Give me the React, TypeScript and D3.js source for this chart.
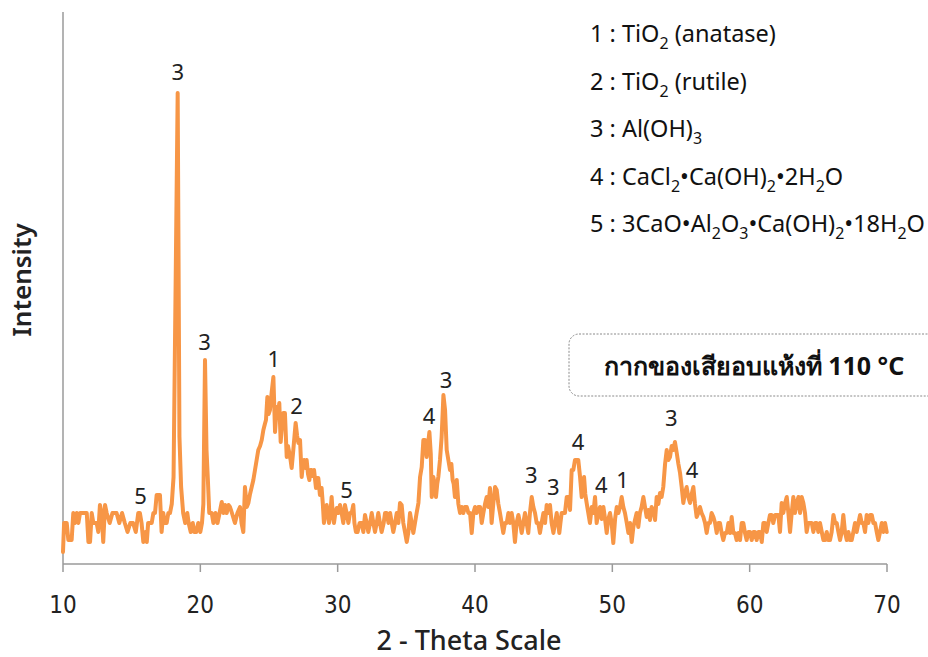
import React from "react";
import * as d3 from "d3";

// XRD pattern: [2θ (deg), intensity (a.u.)]
const xrdPattern: [number, number][] = [
  [10.0, 12], [10.08, 41], [10.27, 41], [10.39, 24], [10.63, 24], [10.75, 51], [10.88, 41], [11.0, 51], [11.12, 41], [11.24, 51],
  [11.36, 51], [11.73, 51], [11.85, 22], [11.97, 22], [12.09, 51], [12.21, 41], [12.33, 41], [12.45, 41], [12.57, 32], [12.69, 59],
  [12.81, 51], [12.93, 22], [13.06, 59], [13.18, 51], [13.4, 41], [13.6, 51], [13.9, 51], [14.1, 41], [14.3, 51], [14.5, 41],
  [14.7, 32], [14.9, 41], [15.1, 41], [15.3, 32], [15.48, 51], [15.6, 51], [15.72, 41], [15.85, 22], [16.0, 32], [16.1, 22],
  [16.2, 41], [16.46, 41], [16.58, 51], [16.7, 51], [16.82, 69], [17.06, 69], [17.18, 32], [17.3, 51], [17.42, 41], [17.55, 41],
  [17.67, 51], [17.79, 51], [17.92, 60], [18.05, 87], [18.35, 471], [18.48, 127], [18.6, 77], [18.75, 51], [18.9, 41], [19.05, 51],
  [19.15, 41], [19.3, 32], [19.45, 41], [19.55, 32], [19.7, 32], [19.85, 41], [20.0, 32], [20.12, 41], [20.22, 60], [20.34, 204],
  [20.45, 114], [20.55, 84], [20.65, 51], [20.83, 51], [20.95, 41], [21.1, 51], [21.25, 41], [21.4, 51], [21.56, 62], [21.68, 51],
  [21.8, 59], [21.92, 51], [22.05, 59], [22.16, 57], [22.3, 51], [22.52, 41], [22.7, 51], [22.89, 57], [23.0, 41], [23.13, 32],
  [23.25, 77], [23.38, 57], [23.5, 61], [23.62, 70], [23.74, 77], [23.86, 84], [23.98, 94], [24.1, 104], [24.22, 114], [24.35, 118],
  [24.47, 124], [24.59, 134], [24.7, 140], [24.78, 144], [24.88, 167], [24.97, 150], [25.07, 154], [25.19, 171], [25.32, 187], [25.44, 132],
  [25.56, 157], [25.65, 150], [25.75, 161], [25.85, 122], [25.95, 140], [26.04, 151], [26.16, 151], [26.29, 107], [26.38, 118], [26.48, 111],
  [26.57, 104], [26.65, 96], [26.77, 114], [26.94, 141], [27.05, 128], [27.14, 121], [27.26, 124], [27.38, 87], [27.47, 100], [27.55, 104],
  [27.65, 96], [27.74, 104], [27.84, 90], [27.94, 84], [28.02, 94], [28.11, 94], [28.2, 88], [28.28, 94], [28.42, 76], [28.5, 86],
  [28.59, 86], [28.71, 69], [28.83, 76], [28.92, 60], [29.0, 41], [29.1, 51], [29.2, 59], [29.28, 51], [29.37, 41], [29.47, 51],
  [29.56, 67], [29.64, 51], [29.73, 41], [29.83, 51], [29.93, 56], [30.05, 51], [30.17, 59], [30.29, 51], [30.41, 41], [30.53, 59],
  [30.65, 51], [30.78, 41], [30.9, 51], [31.02, 51], [31.14, 59], [31.22, 41], [31.33, 32], [31.45, 32], [31.6, 41], [31.75, 41],
  [31.87, 32], [31.99, 49], [32.11, 41], [32.23, 32], [32.36, 41], [32.48, 51], [32.6, 41], [32.72, 32], [32.84, 41], [32.96, 51],
  [33.08, 41], [33.2, 32], [33.35, 41], [33.45, 51], [33.57, 51], [33.7, 41], [33.82, 51], [33.94, 41], [34.05, 32], [34.18, 41],
  [34.3, 51], [34.42, 41], [34.54, 61], [34.66, 59], [34.78, 41], [34.9, 32], [35.03, 22], [35.15, 32], [35.27, 51], [35.39, 41],
  [35.51, 31], [35.63, 41], [35.75, 51], [35.88, 61], [36.0, 87], [36.12, 97], [36.24, 124], [36.36, 124], [36.48, 107], [36.58, 120],
  [36.68, 132], [36.78, 110], [36.85, 67], [36.97, 87], [37.06, 80], [37.16, 67], [37.25, 80], [37.33, 87], [37.45, 104], [37.57, 127],
  [37.7, 169], [37.82, 154], [37.94, 114], [38.06, 104], [38.18, 94], [38.28, 100], [38.37, 84], [38.45, 80], [38.54, 67], [38.67, 84],
  [38.79, 60], [38.91, 51], [39.03, 57], [39.15, 51], [39.27, 57], [39.4, 57], [39.52, 51], [39.64, 51], [39.76, 31], [39.88, 51],
  [40.0, 57], [40.12, 51], [40.25, 57], [40.37, 57], [40.49, 41], [40.61, 51], [40.73, 60], [40.85, 67], [40.97, 57], [41.09, 76],
  [41.21, 41], [41.33, 60], [41.46, 77], [41.58, 74], [41.7, 60], [41.82, 51], [41.94, 41], [42.06, 31], [42.18, 41], [42.31, 41],
  [42.43, 51], [42.55, 41], [42.67, 51], [42.79, 41], [42.91, 22], [43.03, 41], [43.16, 49], [43.28, 41], [43.4, 31], [43.52, 41],
  [43.64, 51], [43.76, 41], [43.88, 31], [44.0, 51], [44.13, 67], [44.25, 57], [44.37, 51], [44.49, 41], [44.61, 41], [44.73, 31],
  [44.85, 41], [44.98, 51], [45.1, 41], [45.22, 59], [45.34, 51], [45.46, 59], [45.58, 41], [45.71, 31], [45.83, 41], [45.95, 51],
  [46.05, 41], [46.14, 31], [46.22, 41], [46.31, 51], [46.43, 51], [46.55, 51], [46.68, 67], [46.8, 67], [46.92, 54], [47.04, 94],
  [47.16, 94], [47.28, 104], [47.4, 104], [47.52, 104], [47.65, 87], [47.77, 67], [47.85, 80], [47.94, 87], [48.03, 70], [48.13, 61],
  [48.25, 51], [48.37, 41], [48.5, 57], [48.62, 51], [48.74, 67], [48.86, 41], [48.98, 51], [49.1, 57], [49.22, 45], [49.35, 57],
  [49.47, 45], [49.59, 31], [49.71, 45], [49.83, 51], [49.95, 41], [50.07, 21], [50.2, 45], [50.32, 57], [50.44, 51], [50.56, 57],
  [50.68, 67], [50.8, 57], [50.92, 51], [51.05, 41], [51.17, 31], [51.29, 41], [51.41, 22], [51.53, 37], [51.65, 44], [51.77, 51],
  [51.89, 37], [52.01, 51], [52.13, 57], [52.26, 67], [52.38, 57], [52.5, 47], [52.62, 54], [52.74, 44], [52.86, 57], [52.99, 54],
  [53.11, 44], [53.23, 67], [53.35, 60], [53.47, 71], [53.59, 67], [53.71, 77], [53.84, 100], [53.96, 114], [54.08, 104], [54.2, 107],
  [54.32, 118], [54.44, 114], [54.56, 122], [54.69, 111], [54.81, 100], [54.93, 91], [55.05, 77], [55.17, 61], [55.29, 71], [55.41, 77],
  [55.53, 67], [55.66, 61], [55.78, 70], [55.9, 77], [56.02, 60], [56.14, 47], [56.26, 51], [56.38, 57], [56.5, 51], [56.63, 47],
  [56.75, 41], [56.87, 31], [56.99, 41], [57.11, 41], [57.23, 51], [57.36, 47], [57.48, 41], [57.6, 31], [57.72, 41], [57.84, 41],
  [57.96, 31], [58.08, 24], [58.2, 31], [58.33, 31], [58.45, 41], [58.57, 31], [58.69, 47], [58.81, 31], [58.93, 31], [59.05, 24],
  [59.17, 31], [59.3, 24], [59.42, 41], [59.54, 41], [59.66, 31], [59.78, 24], [59.9, 32], [60.03, 32], [60.15, 24], [60.27, 32],
  [60.39, 32], [60.51, 24], [60.63, 32], [60.76, 32], [60.88, 22], [61.0, 41], [61.12, 41], [61.24, 32], [61.36, 41], [61.48, 49],
  [61.6, 49], [61.72, 41], [61.85, 49], [61.97, 49], [62.09, 49], [62.21, 32], [62.33, 61], [62.45, 51], [62.58, 61], [62.7, 67],
  [62.82, 51], [62.94, 32], [63.06, 51], [63.18, 67], [63.3, 51], [63.42, 61], [63.55, 67], [63.67, 51], [63.79, 67], [63.91, 61],
  [64.03, 51], [64.15, 32], [64.27, 41], [64.4, 41], [64.52, 41], [64.64, 32], [64.76, 41], [64.88, 41], [65.0, 32], [65.12, 41],
  [65.25, 32], [65.37, 24], [65.49, 24], [65.61, 32], [65.73, 24], [65.85, 24], [65.97, 32], [66.1, 49], [66.22, 41], [66.34, 41],
  [66.46, 32], [66.58, 24], [66.7, 32], [66.82, 49], [66.94, 32], [67.07, 24], [67.19, 32], [67.31, 24], [67.43, 24], [67.55, 32],
  [67.67, 41], [67.79, 32], [67.92, 41], [68.04, 49], [68.16, 41], [68.28, 41], [68.4, 32], [68.52, 49], [68.64, 41], [68.77, 49],
  [68.89, 49], [69.01, 41], [69.13, 41], [69.25, 32], [69.37, 24], [69.49, 32], [69.62, 41], [69.74, 32], [69.86, 41], [69.98, 32],
];

// Peak annotations: [2θ, intensity at label baseline, phase number]
const peakLabels: [number, number, string][] = [
  [15.65, 60, "5"],
  [18.35, 484, "3"],
  [20.3, 214, "3"],
  [25.35, 197, "1"],
  [27.0, 150, "2"],
  [30.65, 66, "5"],
  [36.65, 140, "4"],
  [37.9, 176, "3"],
  [44.1, 81, "3"],
  [45.7, 69, "3"],
  [47.5, 114, "4"],
  [49.2, 71, "4"],
  [50.75, 76, "1"],
  [54.3, 138, "3"],
  [55.8, 86, "4"],
];

const xTicks = [10, 20, 30, 40, 50, 60, 70];

const legendItems = [
  "1 : TiO_2 (anatase)",
  "2 : TiO_2 (rutile)",
  "3 : Al(OH)_3",
  "4 : CaCl_2•Ca(OH)_2•2H_2O",
  "5 : 3CaO•Al_2O_3•Ca(OH)_2•18H_2O",
];

const sampleLabel = "กากของเสียอบแห้งที่ 110 °C";
const xTitle = "2 - Theta Scale";
const yTitle = "Intensity";

const W = 928;
const H = 657;
const plot = { left: 63, right: 887, top: 12, bottom: 564 };

function Formula({ text, x, y }: { text: string; x: number; y: number }) {
  const parts = text.split(/_(\d)/);
  const nodes: React.ReactNode[] = [];
  let sub = false;
  parts.forEach((p, i) => {
    if (i % 2 === 1) {
      nodes.push(
        <tspan key={i} fontSize={16} dy={sub ? 0 : 7}>
          {p}
        </tspan>
      );
      sub = true;
    } else if (p.length) {
      nodes.push(
        <tspan key={i} dy={sub ? -7 : 0}>
          {p}
        </tspan>
      );
      sub = false;
    }
  });
  return (
    <text x={x} y={y} fontSize={23.5} fill="#111" fontFamily="'Noto Sans', 'Open Sans', sans-serif">
      {nodes}
    </text>
  );
}

export default function App() {
  const x = d3.scaleLinear().domain([10, 70]).range([plot.left, plot.right]);
  const y = d3.scaleLinear().domain([0, 552]).range([plot.bottom, plot.top]);
  const line = d3
    .line<[number, number]>()
    .x((d) => x(d[0]))
    .y((d) => y(d[1]))
    .curve(d3.curveLinear);

  return (
    <svg
      width={W}
      height={H}
      style={{ position: "absolute", left: 0, top: 0, background: "#fff" }}
    >
      <rect width={W} height={H} fill="#fff" />
      {/* axes */}
      <line x1={plot.left} x2={plot.left} y1={plot.top} y2={plot.bottom} stroke="#9a9a9a" strokeWidth={1.5} />
      <line x1={plot.left} x2={plot.right} y1={plot.bottom} y2={plot.bottom} stroke="#9a9a9a" strokeWidth={1.5} />
      {xTicks.map((t) => (
        <g key={t}>
          <line x1={x(t)} x2={x(t)} y1={plot.bottom} y2={plot.bottom + 8} stroke="#9a9a9a" strokeWidth={1.5} />
          <text
            x={x(t)}
            y={613}
            textAnchor="middle"
            fontSize={24}
            fill="#222"
            fontFamily="'Liberation Sans Narrow', 'DejaVu Sans Condensed', sans-serif"
          >
            {t}
          </text>
        </g>
      ))}
      <text
        x={(plot.left + plot.right) / 2 - 6}
        y={650}
        textAnchor="middle"
        fontSize={27}
        fontWeight={500}
        fill="#222"
        fontFamily="'Noto Sans', 'Open Sans', sans-serif"
      >
        {xTitle}
      </text>
      <text
        transform={`translate(31,280) rotate(-90)`}
        textAnchor="middle"
        fontSize={26}
        fontWeight={600}
        fill="#222"
        fontFamily="'Noto Sans', 'Open Sans', sans-serif"
      >
        {yTitle}
      </text>

      {/* pattern */}
      <path
        d={line(xrdPattern) ?? ""}
        fill="none"
        stroke="#F79646"
        strokeWidth={4}
        strokeLinejoin="round"
        strokeLinecap="round"
      />

      {/* peak labels */}
      {peakLabels.map(([t, v, s], i) => (
        <text
          key={i}
          x={x(t)}
          y={y(v)}
          textAnchor="middle"
          fontSize={22}
          fill="#222"
          fontFamily="'Noto Sans', 'Open Sans', sans-serif"
        >
          {s}
        </text>
      ))}

      {/* legend */}
      {legendItems.map((s, i) => (
        <Formula key={i} text={s} x={590} y={42 + i * 47.5} />
      ))}

      {/* sample box */}
      <rect
        x={569}
        y={334}
        width={400}
        height={62}
        rx={10}
        fill="#fff"
        stroke="#8a8a8a"
        strokeWidth={1}
        strokeDasharray="2,1.5"
      />
      <text
        x={754}
        y={375}
        textAnchor="middle"
        fontSize={25}
        fontWeight={700}
        fill="#111"
        fontFamily="'Noto Sans', 'Open Sans', sans-serif"
      >
        {sampleLabel}
      </text>
    </svg>
  );
}
